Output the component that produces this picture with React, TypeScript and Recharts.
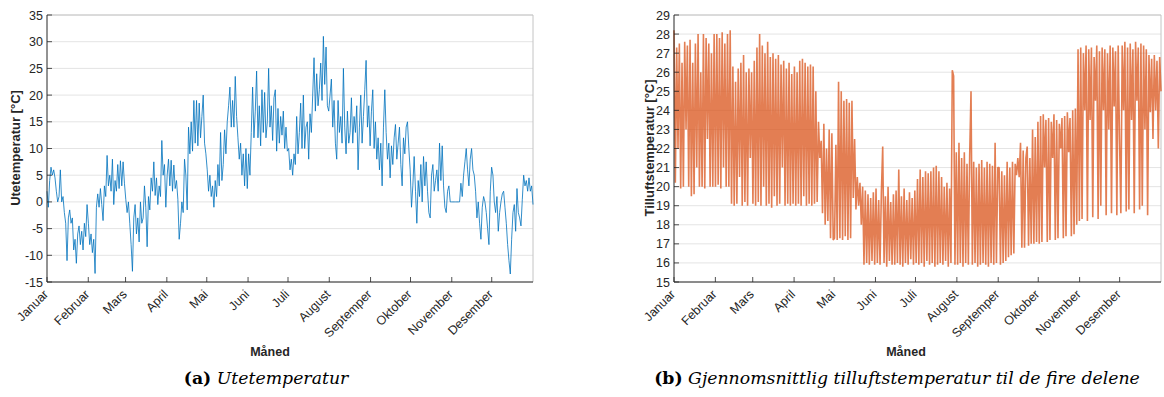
import { LineChart, Line, XAxis, YAxis, CartesianGrid, ReferenceLine } from "recharts";

// Month labels (kept as in the original, including the "Septemper" spelling)
const MONTHS = [
  "Januar", "Februar", "Mars", "April", "Mai", "Juni",
  "Juli", "August", "Septemper", "Oktober", "November", "Desember",
];
const MONTH_START_DAYS = [0, 31, 59, 90, 120, 151, 181, 212, 243, 273, 304, 334];
const OUT_TICKS = [-15, -10, -5, 0, 5, 10, 15, 20, 25, 30, 35];
const SUPPLY_TICKS = [15, 16, 17, 18, 19, 20, 21, 22, 23, 24, 25, 26, 27, 28, 29];

// Utetemperatur, one reading per day (alternating towards daily high / low)
const janOut = [2, -1, 4, 6.5, 5, 6, 4.5, 2, 0, 1, 6, 0, 1, -2, -4, -11, -3, -1.5, -4, -3, -9, -7, -11.5, -6, -4.5, -8, -5.5, -9, -4, -6.5, -0.5];
const febOut = [-4, -8, -6, -9.5, -7, -13.4, -1, 1.5, -1, 2.5, -0.5, -3.5, 3, 1, 8.7, 3, 5, 2, 8, -0.5, 4, 2, 7, 2.5, 7.7, 3, 7.5, 3.5];
const marOut = [0.5, -2, 0, -4, -8, -13, -3, -0.5, -6, -3, -7.5, 0, -4, -3, 3, -1, -8.4, 1, -1.5, 4.5, 2, 7.5, 1.2, 4.5, -0.5, 3, 1, 11.5, 5, 7, -1];
const aprOut = [5, 8, 3, 7.8, 2, 6.9, 2.5, 4, 0.5, -7, -4, 0, -2, 8, 5, -1.5, 14, 9, 15, 9.5, 19, 11, 19, 10.5, 18.5, 12, 16, 20, 11, 9];
const mayOut = [6, 2, 5, 1, 3, -1, 4, 1, 7, 3, 13, 4, 7, 13.5, 9, 15, 18, 21.5, 14, 19, 14, 23.5, 16, 12, 8, 11, 5, 9, 3, 10, 2.5];
const junOut = [9, 5, 13, 21.5, 12, 17, 24.5, 12, 18, 10.5, 21, 13, 20.5, 12, 15, 25, 14, 18, 11.5, 19.5, 21, 9.5, 17.5, 11, 16, 12.5, 17, 10, 14, 9.5];
const julOut = [10, 6, 8, 5, 9, 7, 16, 9, 13, 18.5, 10, 20, 10, 14, 15, 8, 16.5, 13, 20, 27, 17, 24, 18, 21, 26, 19, 31, 22, 29, 18, 17];
const augOut = [20, 23, 14, 19, 11, 8, 19, 13, 16, 11, 25, 14, 9, 17, 11, 13, 19.5, 11, 16, 13, 18, 6, 14, 20, 11, 16, 21, 26.5, 14, 18, 10.5];
const sepOut = [17, 21, 10, 15, 8, 12, 6, 11, 3, 14, 21, 13, 8, 11, 4.5, 10.5, 7, 12, 14.5, 8, 11, 14, 7, 3, 12, 9, 14, 15, 10, 6];
const octOut = [-1, 3, 8.5, 2, -4, 4, 1, 7, 0, 8.5, 3, 7.5, 2, -2, -3, 5, 7, 2, 4, 6, 2, 11, 4, 10.5, 3, -1, -2, 2, 3, 0, 0];
const novOut = [0, 0, 0, 0, 0, 0, 3.5, 1, 5, 7.5, 10, 6, 3, 8, 10, 6, 5, 2, -3, 0, -4, -7, -1, 1, 0, -2, -5, -8, 2, 6.5];
const decOut = [5, 0, -2, 1, -5.5, -2, 0, 1.5, 2, -1, -4, -8, -11, -13.5, -7, -2, -0.5, -5.5, 2.5, -2, -3, -4.5, 0.5, 5, 3, 4, 2, 4.5, 2, 3, -0.5];

// Gjennomsnittlig tilluftstemperatur, one reading per day
const janSup = [28.2, 20.2, 27.3, 22, 27.5, 19.9, 26.5, 20, 27.6, 23, 27.4, 20, 27.7, 19.5, 26.5, 19.6, 27.5, 21, 28, 20, 26, 20, 28, 19.9, 27.8, 22.5, 27.5, 20, 27, 20, 28];
const febSup = [20, 28, 20.1, 27.8, 19.9, 28.1, 21, 27.5, 20, 28, 20, 28.2, 19.1, 26.3, 19, 25.5, 19.1, 26.2, 20.5, 26.5, 19, 26.9, 19.2, 26, 19, 26.2, 21.5, 26];
const marSup = [19.1, 26.6, 19, 27.3, 19.2, 28, 19, 27.4, 20, 27, 19, 27.6, 19.1, 26.8, 18.9, 27, 19.5, 26.7, 19, 26.9, 19.1, 26.4, 21, 26.6, 19, 26.2, 19.1, 26.5, 19, 25.9, 19.1];
const aprSup = [26.3, 19, 26, 19.1, 26.6, 19, 26.7, 19.5, 26.5, 19, 26.3, 19.1, 26.4, 19, 26.3, 19.1, 25, 19.2, 23.4, 21.5, 22.4, 18.6, 23.3, 18, 22, 18.2, 23, 17.3, 22.8, 17.2];
const maySup = [17.3, 22.2, 17.2, 25.5, 17.3, 25, 17.2, 24.5, 17.4, 24.6, 17.2, 24.4, 17.3, 24.5, 19.4, 22.5, 18.8, 20.5, 19, 20.2, 18, 20, 15.9, 19.8, 16, 19.6, 15.9, 19.4, 16.1, 19.7, 15.9];
const junSup = [19.9, 16, 19.3, 15.9, 19.7, 22.1, 16, 19.5, 15.8, 20, 16.1, 19.2, 15.9, 19.6, 15.9, 19.8, 16, 20.9, 15.9, 19.5, 15.8, 19.9, 16, 19.3, 15.9, 19.7, 16.2, 19.4, 15.9, 19.8];
const julSup = [16, 20.4, 15.9, 20.9, 16, 20.5, 15.8, 20.8, 16.1, 20.7, 15.9, 20.8, 16, 21, 15.8, 21.1, 15.9, 20.8, 16, 20.5, 15.9, 20, 16.1, 20.2, 15.8, 19.9, 16, 26.1, 25.8, 15.9, 21.8];
const augSup = [15.9, 22.3, 16, 21.5, 15.8, 21.8, 16, 21.2, 15.9, 21.6, 25, 15.9, 21.3, 16, 21, 15.8, 21.2, 15.9, 21.4, 16, 21, 15.9, 21.3, 15.8, 21.2, 16, 21.1, 15.9, 22.3, 16, 21];
const sepSup = [21, 15.9, 20.8, 16, 20.6, 16.1, 21.3, 16.3, 21, 16.4, 21.3, 16.5, 21.2, 20.6, 21.5, 20.5, 22.3, 16.8, 21.9, 16.8, 21.5, 22.1, 16.9, 21.5, 17, 23, 17, 22.6, 17.1, 23.4];
const octSup = [17, 23.7, 17.1, 23.8, 21, 23.5, 17.1, 23.6, 17.2, 23.4, 21.5, 23.8, 17.2, 23.5, 17.3, 23.3, 22, 23.6, 17.3, 23.7, 17.4, 23.9, 21.8, 23.6, 17.4, 24, 17.5, 24.1, 18, 27.2, 18.2];
const novSup = [27.3, 18.3, 27, 24, 27.4, 18.2, 27.2, 23.5, 27.3, 18.4, 26.8, 24.5, 27.4, 18.3, 27.1, 19, 27.3, 24, 27.2, 18.5, 27, 23, 27.4, 18.6, 27.3, 24.2, 27.1, 18.5, 27.4, 22.5];
const decSup = [18.6, 27.4, 24, 27.6, 18.7, 27.3, 18.8, 27.5, 23.5, 27.2, 18.6, 27.6, 24.5, 27.3, 18.8, 27.5, 19, 27.4, 23, 27.2, 18.5, 26.9, 23.9, 26.7, 22.5, 26.9, 24, 26.6, 22, 26.8, 25];

const outdoor = [...janOut, ...febOut, ...marOut, ...aprOut, ...mayOut, ...junOut, ...julOut, ...augOut, ...sepOut, ...octOut, ...novOut, ...decOut];
const supply = [...janSup, ...febSup, ...marSup, ...aprSup, ...maySup, ...junSup, ...julSup, ...augSup, ...sepSup, ...octSup, ...novSup, ...decSup];

// spread the daily readings over the year 0..365
const toSeries = (values: number[]) =>
  values.map((v, i) => ({ day: (i * 365) / (values.length - 1), temp: v }));

const outdoorData = toSeries(outdoor);
const supplyData = toSeries(supply);

const SANS = '"Liberation Sans", Arial, Helvetica, sans-serif';
const SERIF = '"DejaVu Serif", "Liberation Serif", serif';
const AXIS = "#262626";
const BOX = "#c4c4c4";
const GRID = "#e4e4e4";

function MonthTick(props: any) {
  const { x, y, payload } = props;
  const idx = MONTH_START_DAYS.indexOf(payload.value);
  return (
    <g>
      <line x1={x} y1={y} x2={x} y2={y - 5} stroke={AXIS} strokeWidth={0.8} />
      <text
        transform={`translate(${x + 2},${y + 13}) rotate(-45)`}
        textAnchor="end"
        fontSize={12.5}
        fontFamily={SANS}
        fill={AXIS}
      >
        {MONTHS[idx]}
      </text>
    </g>
  );
}

function TempTick(props: any) {
  const { x, y, payload } = props;
  return (
    <g>
      <line x1={x} y1={y} x2={x + 5} y2={y} stroke={AXIS} strokeWidth={0.8} />
      <text x={x - 4} y={y} dy="0.36em" textAnchor="end" fontSize={12.5} fontFamily={SANS} fill={AXIS}>
        {payload.value}
      </text>
    </g>
  );
}

interface PanelProps {
  data: { day: number; temp: number }[];
  width: number;
  yAxisWidth: number;
  rightMargin: number;
  domain: [number, number];
  ticks: number[];
  color: string;
  strokeWidth: number;
  opacity: number;
}

function Panel({ data, width, yAxisWidth, rightMargin, domain, ticks, color, strokeWidth, opacity }: PanelProps) {
  return (
    <LineChart width={width} height={397} data={data} margin={{ top: 15, right: rightMargin, bottom: 0, left: 0 }}>
      <CartesianGrid vertical={false} stroke={GRID} strokeWidth={1} />
      <XAxis
        dataKey="day"
        type="number"
        domain={[0, 365]}
        ticks={MONTH_START_DAYS}
        interval={0}
        height={115}
        tickSize={0}
        tickMargin={0}
        tickLine={false}
        axisLine={{ stroke: AXIS, strokeWidth: 1 }}
        tick={MonthTick}
      />
      <YAxis
        type="number"
        domain={domain}
        ticks={ticks}
        interval={0}
        width={yAxisWidth}
        tickSize={0}
        tickMargin={0}
        tickLine={false}
        axisLine={{ stroke: AXIS, strokeWidth: 1 }}
        tick={TempTick}
        allowDataOverflow
      />
      <ReferenceLine y={domain[1]} stroke={BOX} strokeWidth={1} />
      <ReferenceLine x={365} stroke={BOX} strokeWidth={1} />
      <Line
        type="linear"
        dataKey="temp"
        stroke={color}
        strokeWidth={strokeWidth}
        strokeOpacity={opacity}
        strokeLinejoin="bevel"
        dot={false}
        activeDot={false}
        isAnimationActive={false}
      />
    </LineChart>
  );
}

const yLabel = (left: number, text: string) => (
  <div
    style={{
      position: "absolute",
      left,
      top: 148,
      transform: "translate(-50%, -50%) rotate(-90deg)",
      whiteSpace: "nowrap",
      fontFamily: SANS,
      fontWeight: "bold",
      fontSize: 13,
      color: AXIS,
    }}
  >
    {text}
  </div>
);

const xLabel = (left: number) => (
  <div
    style={{
      position: "absolute",
      left,
      top: 352,
      transform: "translate(-50%, -50%)",
      whiteSpace: "nowrap",
      fontFamily: SANS,
      fontWeight: "bold",
      fontSize: 12.5,
      color: AXIS,
    }}
  >
    Måned
  </div>
);

const caption = (left: number, tag: string, text: string) => (
  <div
    style={{
      position: "absolute",
      left,
      top: 378,
      transform: "translate(-50%, -50%)",
      whiteSpace: "nowrap",
      fontFamily: SERIF,
      fontSize: 17.3,
      color: "#000",
    }}
  >
    <b>{tag}</b> <i>{text}</i>
  </div>
);

export default function App() {
  return (
    <div style={{ position: "fixed", left: 0, top: 0, width: 1164, height: 397, background: "#fff", overflow: "hidden" }}>
      <div style={{ position: "absolute", left: 0, top: 0 }}>
        <Panel
          data={outdoorData}
          width={545}
          yAxisWidth={47}
          rightMargin={12}
          domain={[-15, 35]}
          ticks={OUT_TICKS}
          color="#0072BD"
          strokeWidth={1}
          opacity={0.8}
        />
      </div>
      <div style={{ position: "absolute", left: 620, top: 0 }}>
        <Panel
          data={supplyData}
          width={544}
          yAxisWidth={54}
          rightMargin={3}
          domain={[15, 29]}
          ticks={SUPPLY_TICKS}
          color="#D95319"
          strokeWidth={1.6}
          opacity={0.75}
        />
      </div>
      {yLabel(15, "Utetemperatur [°C]")}
      {yLabel(649, "Tilluftstemperatur [°C]")}
      {xLabel(270)}
      {xLabel(906)}
      {caption(266, "(a)", "Utetemperatur")}
      {caption(897, "(b)", "Gjennomsnittlig tilluftstemperatur til de fire delene")}
    </div>
  );
}
